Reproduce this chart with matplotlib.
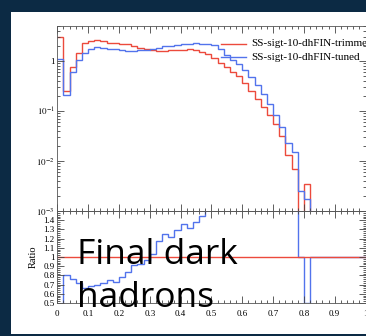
import numpy as np
import matplotlib
matplotlib.use("Agg")
import matplotlib.pyplot as plt
from matplotlib.patches import Rectangle
from matplotlib.ticker import MultipleLocator, LogLocator, FuncFormatter, NullFormatter, FixedLocator

# 50 bins de largura 0.02 em [0, 1]
bin_width = 0.02
edges = np.arange(51) * bin_width

trimmed = [3.0, 0.255, 0.75, 1.45, 2.29, 2.55, 2.63, 2.55, 2.29, 2.25,
           2.2, 2.15, 2.0, 1.85, 1.74, 1.68, 1.58, 1.60, 1.62, 1.62,
           1.64, 1.72, 1.66, 1.50, 1.35, 1.12, 0.92, 0.74, 0.60, 0.49,
           0.36, 0.25, 0.17, 0.12, 0.085, 0.055, 0.032, 0.013, 0.0068, 0.0,
           0.0034, 0, 0, 0, 0, 0, 0, 0, 0, 0]
tuned = [1.11, 0.21, 0.6, 1.06, 1.45, 1.74, 1.9, 1.85, 1.76, 1.74,
         1.64, 1.58, 1.58, 1.64, 1.68, 1.74, 1.8, 1.97, 1.97, 2.06,
         2.15, 2.2, 2.25, 2.18, 2.18, 2.1, 1.76, 1.32, 1.05, 0.85,
         0.65, 0.48, 0.33, 0.22, 0.14, 0.085, 0.048, 0.0226, 0.0154, 0.0025,
         0.0017, 0, 0, 0, 0, 0, 0, 0, 0, 0]
ratio_tuned = [0.37, 0.80, 0.76, 0.72, 0.66, 0.68, 0.70, 0.72, 0.75, 0.73,
               0.78, 0.84, 0.91, 0.92, 0.97, 1.03, 1.17, 1.25, 1.22, 1.29,
               1.36, 1.32, 1.38, 1.45, 1.6, 1.9, 1.9, 1.8, 1.75, 1.75,
               1.8, 1.9, 1.95, 1.8, 1.65, 1.55, 1.55, 1.75, 2.3, 1.0,
               0.5, 1, 1, 1, 1, 1, 1, 1, 1, 1]
ratio_trimmed = [1.0] * 50
labels = ["SS-sigt-10-dhFIN-trimmed", "SS-sigt-10-dhFIN-tuned"]

RED, BLUE = "#ec4a3c", "#5273ec"
plt.rcParams["font.family"] = ["Liberation Serif"]
plt.rcParams["mathtext.fontset"] = "stix"

W, H = 366, 336
fig = plt.figure(figsize=(W / 100, H / 100), dpi=100, facecolor="#0c2a44")
fig.add_artist(Rectangle((11 / W, 2 / H), (W - 11) / W, (334 - 12) / H,
                         transform=fig.transFigure, facecolor="white",
                         edgecolor="none", zorder=-5))

x0, x1 = 57.3, 365.5
ax = fig.add_axes([x0 / W, 1 - 211 / H, (x1 - x0) / W, (211 - 26) / H])
axr = fig.add_axes([x0 / W, 1 - 303 / H, (x1 - x0) / W, (303 - 211) / H])
for a in (ax, axr):
    a.set_facecolor("none")

ax.stairs(trimmed, edges, baseline=None, color=RED, lw=1.0)
ax.stairs(tuned, edges, baseline=None, color=BLUE, lw=1.0)
ax.set_yscale("log", nonpositive="clip")
ax.set_ylim(1e-3, 5.0)
ax.set_xlim(0, 1)
ax.yaxis.set_major_locator(FixedLocator([1e-3, 1e-2, 1e-1, 1]))
ax.yaxis.set_minor_locator(LogLocator(subs=np.arange(2, 10)))
ax.yaxis.set_minor_formatter(NullFormatter())
ax.yaxis.set_major_formatter(FuncFormatter(
    lambda v, p: "1" if v == 1 else r"$10^{-%d}$" % round(-np.log10(v))))
ax.tick_params(labelbottom=False)

axr.stairs(ratio_tuned, edges, baseline=None, color=BLUE, lw=1.0)
axr.stairs(ratio_trimmed, edges, baseline=None, color=RED, lw=1.0)
axr.set_xlim(0, 1)
axr.set_ylim(0.5, 1.5)
axr.yaxis.set_major_locator(FixedLocator(np.round(np.arange(0.5, 1.45, 0.1), 1)))
axr.yaxis.set_minor_locator(MultipleLocator(0.02))
axr.yaxis.set_major_formatter(FuncFormatter(lambda v, p: f"{v:g}"))
axr.xaxis.set_major_formatter(FuncFormatter(lambda v, p: f"{v:g}"))
axr.set_ylabel("Ratio", fontsize=7.5, labelpad=4)

for a in (ax, axr):
    a.xaxis.set_major_locator(MultipleLocator(0.1))
    a.xaxis.set_minor_locator(MultipleLocator(0.02))
    a.tick_params(which="both", direction="in", top=True, right=True,
                  width=0.6, color="#444444", labelsize=6.5, pad=2)
    a.tick_params(which="major", length=5)
    a.tick_params(which="minor", length=2.5)
    for s in a.spines.values():
        s.set_linewidth(0.6)
        s.set_color("#555555")
axr.tick_params(axis="x", which="major", pad=5)

# legenda manual (texto cortado pela borda da figura)
for i, (lab, col) in enumerate(zip(labels, [RED, BLUE])):
    yy = 0.905 - i * 0.074
    ax.plot([0.531, 0.612], [yy, yy], color=col, lw=1.0, transform=ax.transAxes, clip_on=False)
    ax.text(0.628, yy, lab, fontsize=8, va="center", ha="left", transform=ax.transAxes)

fig.text(77 / W, 1 - 264.5 / H, "Final dark", fontsize=25.5, family="Open Sans",
         color="black", va="baseline", ha="left", zorder=10)
fig.text(77 / W, 1 - 307 / H, "hadrons", fontsize=25.5, family="Open Sans",
         color="black", va="baseline", ha="left", zorder=10)

fig.savefig("out.png", dpi=100, facecolor=fig.get_facecolor())
